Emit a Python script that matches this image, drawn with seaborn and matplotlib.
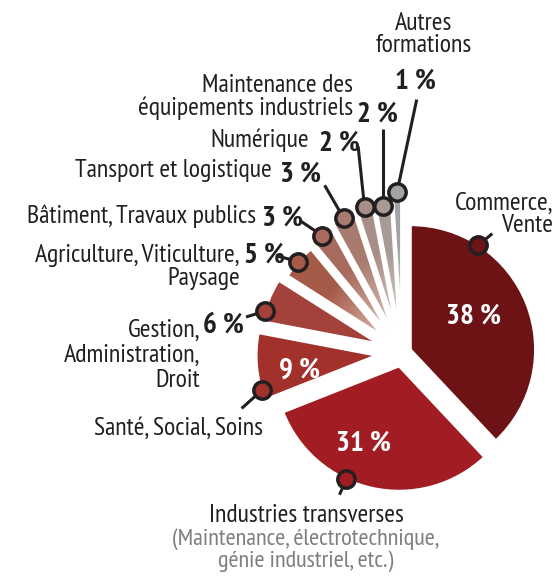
import numpy as np
import matplotlib
matplotlib.use("Agg")
import matplotlib.pyplot as plt
import seaborn as sns
from matplotlib.colors import to_rgb

# data
categories = ["Commerce, Vente", "Industries transverses", "Santé, Social, Soins",
              "Gestion, Administration, Droit", "Agriculture, Viticulture, Paysage",
              "Bâtiment, Travaux publics", "Tansport et logistique", "Numérique",
              "Maintenance des équipements industriels", "Autres formations"]
shares = [38, 31, 9, 6, 5, 3, 3, 2, 2, 1]
label_lines = [["Commerce,", "Vente"],
               ["Industries transverses"],
               ["Santé, Social, Soins"],
               ["Gestion,", "Administration,", "Droit"],
               ["Agriculture, Viticulture,", "Paysage"],
               ["Bâtiment, Travaux publics"],
               ["Tansport et logistique"],
               ["Numérique"],
               ["Maintenance des", "équipements industriels"],
               ["Autres", "formations"]]
industries_note = ["(Maintenance, électrotechnique,", "génie industriel, etc.)"]

# style
colors = ["#6D1315", "#A21D23", "#A2302B", "#A2423A", "#A65A48",
          "#A86B5D", "#A87B6E", "#A88E86", "#A89A95", "#A3A3A3"]
explode = [0.075, 0.11, 0.21, 0.21, 0.21, 0.21, 0.21, 0.21, 0.21, 0.21]
radii = [1.0, 1.0, 0.96, 0.94, 0.90, 0.93, 0.97, 1.0, 0.98, 1.08]
marker_angle = [57, 245, 197, 164, None, None, None, None, None, None]
leader_angle = [40, 246, 222, 197, 165, 146, 120, 96, 90, 78]
leader_len = [18, 17, 27, 20, 23, 27, 38, 61, 77, 95]
dark = "#231F20"
grey = "#7F7F7F"

sns.set_theme(style="white")
plt.rcParams["font.family"] = ["PT Sans Narrow", "Fira Sans Condensed", "Roboto Condensed",
                               "Archivo Narrow", "DejaVu Sans"]

W, H = 554, 576
S = 124.5
CX, CY = 402, 353


def P(x, y):
    return (x - CX) / S, (CY - y) / S


fig = plt.figure(figsize=(W / 100, H / 100), dpi=100)
ax = fig.add_axes([0, 0, 1, 1])

wedges, _ = ax.pie(shares, colors=colors, startangle=90, counterclock=False,
                   explode=explode, radius=1.0,
                   wedgeprops=dict(edgecolor="white", linewidth=1.6))

for i, w in enumerate(wedges):
    w.set_radius(radii[i])
    w.set_zorder(2)
    # fading towards the centre for the small slices
    if i >= 4:
        cx, cy = w.center
        r = radii[i]
        xs = np.linspace(cx - r, cx + r, 300)
        ys = np.linspace(cy - r, cy + r, 300)
        X, Y = np.meshgrid(xs, ys)
        d = np.hypot(X - cx, Y - cy) / r
        t = np.clip(0.45 + 0.9 * d, 0, 1)
        rgb = np.array(to_rgb(colors[i]))
        img = 1 - t[..., None] * (1 - rgb)
        im = ax.imshow(img, extent=(cx - r, cx + r, cy - r, cy + r), origin="lower",
                       zorder=1.5, interpolation="bilinear")
        im.set_clip_path(w)
        w.set_facecolor("none")

# markers and leader lines
for i, w in enumerate(wedges):
    cx, cy = w.center
    a = marker_angle[i]
    if a is None:
        a = (w.theta1 + w.theta2) / 2
    mx = cx + w.r * np.cos(np.radians(a))
    my = cy + w.r * np.sin(np.radians(a))
    L = leader_len[i] / S
    lx = mx + L * np.cos(np.radians(leader_angle[i]))
    ly = my + L * np.sin(np.radians(leader_angle[i]))
    ax.plot([mx, lx], [my, ly], color=dark, lw=2.2, solid_capstyle="butt", zorder=4)
    ax.plot(mx, my, "o", ms=12.5, mfc=colors[i], mec=dark, mew=2.5, zorder=5)

fs_reg = 18.6
fs_pct = 21


def txt(s, x, y, ha, bold=False, color=dark, size=None):
    ax.text(*P(x, y), s, ha=ha, va="baseline", color=color,
            fontsize=size or (fs_pct if bold else fs_reg),
            fontweight="bold" if bold else "normal", zorder=6)


pct = [f"{v} %" for v in shares]

# name lines: (ha, x, baselines)
name_pos = [("right", 553, [210, 232]),
            ("center", 306, [522]),
            ("right", 263, [435]),
            ("right", 200, [337, 362, 387]),
            ("right", 240, [262, 285]),
            ("right", 256, [223]),
            ("right", 272, [177]),
            ("right", 309, [147]),
            ("right", 353, [92, 115]),
            ("center", 424, [30, 52])]
# percentage: (ha, x, baseline, inside)
pct_pos = [("center", 474, 324, True),
           ("center", 363, 451, True),
           ("center", 300, 378, True),
           ("left", 203, 333, False),
           ("left", 244, 263, False),
           ("left", 262, 226, False),
           ("left", 280, 182, False),
           ("left", 319, 151, False),
           ("left", 357, 122, False),
           ("center", 415, 89, False)]

for i in range(len(shares)):
    ha, x, ys = name_pos[i]
    for line, y in zip(label_lines[i], ys):
        txt(line, x, y, ha)
    ha, x, y, inside = pct_pos[i]
    txt(pct[i], x, y, ha, bold=True, color="white" if inside else dark)

for line, y in zip(industries_note, [545, 567]):
    txt(line, 306, y, "center", color=grey, size=17.6)

x0, y0 = P(0, H)
x1, y1 = P(W, 0)
ax.set_xlim(x0, x1)
ax.set_ylim(y0, y1)
ax.set_aspect("equal")
ax.axis("off")

fig.savefig("out.png", dpi=100, facecolor="white")
